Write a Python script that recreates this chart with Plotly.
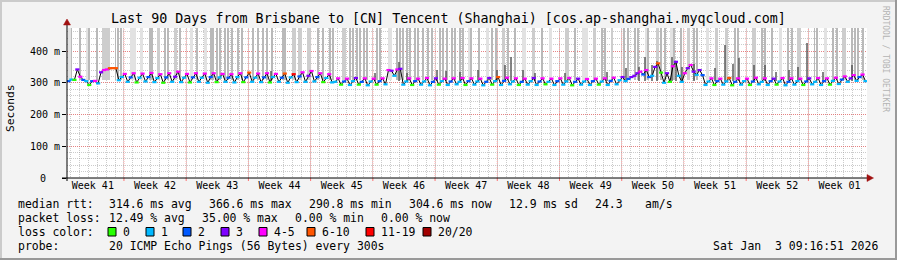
import pandas as pd
import plotly.graph_objects as go

# ---------------- data ----------------
TITLE = "Last 90 Days from Brisbane to [CN] Tencent (Shanghai) [cos.ap-shanghai.myqcloud.com]"
range_start = pd.Timestamp("2025-10-06 14:14")
range_end = pd.Timestamp("2026-01-04 14:14")
sample_hours = 8

week_starts = ["2025-10-06", "2025-10-13", "2025-10-20", "2025-10-27", "2025-11-03",
               "2025-11-10", "2025-11-17", "2025-11-24", "2025-12-01", "2025-12-08",
               "2025-12-15", "2025-12-22", "2025-12-29"]
week_labels = ["Week 41", "Week 42", "Week 43", "Week 44", "Week 45", "Week 46", "Week 47",
               "Week 48", "Week 49", "Week 50", "Week 51", "Week 52", "Week 01"]

# median rtt (ms), three samples per day
rtt_ms = [
    305, 310, 309,  342, 319, 309,  305, 293, 305,  306, 298, 333,  340, 342, 346,
    346, 346, 308,  318, 328, 303,  317, 330, 301,  316, 329, 304,  318, 331, 302,
    315, 327, 300,  317, 330, 303,  319, 335, 302,  316, 328, 301,  317, 330, 303,
    316, 329, 300,  318, 330, 302,  317, 328, 303,  316, 327, 301,  318, 330, 302,
    317, 332, 303,  316, 329, 302,  317, 330, 301,  318, 328, 303,  316, 329, 300,
    317, 327, 302,  320, 333, 303,  322, 337, 304,  318, 330, 302,  315, 327, 301,
    303, 314, 294,  304, 313, 293,  305, 315, 294,  303, 314, 292,  304, 313, 294,
    305, 314, 295,  340, 338, 322,  342, 344, 294,  304, 314, 293,  305, 313, 294,
    304, 315, 292,  303, 314, 294,  305, 313, 293,  304, 314, 295,  303, 315, 293,
    305, 314, 294,  304, 313, 292,  303, 315, 294,  305, 318, 293,  306, 316, 295,
    304, 314, 293,  303, 313, 294,  305, 315, 293,  304, 314, 295,  303, 313, 293,
    305, 314, 294,  304, 315, 292,  303, 313, 294,  304, 312, 293,  305, 313, 294,
    304, 314, 293,  306, 316, 295,  308, 318, 305,  312, 318, 322,  330, 335, 326,
    340, 318, 322,  350, 361, 332,  300, 330, 303,  352, 366, 322,  303, 330, 346,
    356, 335, 325,  340, 324, 293,  304, 314, 293,  305, 313, 294,  304, 315, 292,
    303, 314, 294,  305, 313, 293,  304, 316, 295,  303, 314, 293,  305, 313, 294,
    304, 315, 292,  303, 314, 294,  305, 313, 293,  304, 314, 295,  303, 315, 293,
    305, 314, 294,  306, 316, 296,  310, 320, 303,  314, 324, 306,  318, 326, 305,
]

# lost pings (of 20) for each sample
loss_pings = [
    2, 1, 0,  3, 4, 2,  1, 0, 2,  4, 1, 3,  4, 4, 7,
    7, 7, 1,  1, 4, 1,  2, 4, 0,  1, 4, 1,  2, 4, 1,
    1, 4, 0,  2, 4, 1,  3, 4, 1,  1, 4, 0,  2, 4, 1,
    1, 4, 1,  2, 4, 0,  1, 4, 1,  2, 4, 1,  1, 4, 0,
    2, 7, 1,  1, 4, 1,  2, 4, 0,  1, 4, 1,  2, 7, 1,
    1, 12, 1,  2, 4, 1,  3, 4, 1,  2, 4, 0,  1, 4, 1,
    1, 4, 0,  2, 4, 1,  1, 3, 0,  2, 4, 1,  1, 4, 0,
    2, 4, 1,  4, 3, 1,  4, 3, 1,  1, 4, 0,  2, 4, 1,
    1, 4, 1,  2, 3, 0,  1, 4, 1,  2, 4, 1,  1, 4, 0,
    2, 4, 1,  1, 4, 1,  2, 3, 0,  1, 7, 1,  2, 4, 1,
    1, 4, 0,  2, 4, 1,  1, 3, 1,  2, 4, 0,  1, 4, 1,
    2, 4, 1,  1, 4, 0,  2, 3, 1,  1, 4, 1,  2, 4, 0,
    1, 4, 1,  2, 4, 1,  1, 3, 1,  2, 3, 3,  3, 4, 2,
    4, 2, 1,  3, 7, 0,  1, 3, 0,  4, 3, 1,  1, 4, 3,
    4, 3, 1,  3, 2, 1,  1, 4, 0,  2, 4, 1,  1, 7, 0,
    2, 4, 1,  1, 4, 0,  2, 4, 1,  1, 4, 1,  2, 3, 0,
    1, 4, 1,  2, 4, 1,  1, 4, 0,  2, 3, 1,  1, 4, 1,
    2, 4, 0,  1, 4, 1,  2, 4, 1,  3, 4, 1,  2, 4, 1,
]

loss_labels = ["0", "1", "2", "3", "4-5", "6-10", "11-19", "20/20"]
loss_upper = [0, 1, 2, 3, 5, 10, 19, 20]
loss_colors = ["#26ff00", "#00b8ff", "#0059ff", "#7e00ff", "#ff00ff", "#ff5500", "#ff0000", "#a10000"]

# smoke: periods where some pings went far above the range (start day, length in days, density 1..3)
spike_day = [0.08, 0.45, 1.46, 2.14, 2.47, 3.37, 3.93, 5.40, 5.73, 6.07, 7.08, 8.32, 9.33, 9.55,
             10.12, 11.01, 11.35, 12.14, 12.70, 13.94, 14.61, 15.51, 16.19, 16.41, 16.86, 17.20,
             17.76, 18.10, 18.55, 19.22, 19.67, 20.91, 21.47, 22.03, 22.48, 23.04, 24.28, 24.51,
             25.29, 25.97, 26.98, 28.21, 28.78, 29.56, 29.90, 30.91, 31.81, 32.15, 32.60, 32.94,
             33.39, 33.72, 34.85, 35.18, 36.09, 37.09, 37.43, 37.77, 38.22, 38.56, 39.12, 39.46,
             40.02, 40.58, 41.03, 41.93, 42.27, 42.72, 43.28, 43.62, 44.18, 44.51, 45.08, 45.41,
             46.31, 47.21, 47.77, 48.22, 48.90, 49.57, 50.36, 51.15, 52.27, 53.40, 54.29, 55.98,
             57.10, 57.89, 59.13, 60.14, 60.48, 61.26, 62.61, 63.06, 63.85, 64.18, 64.97, 65.31,
             66.21, 66.77, 67.21, 67.88, 68.21, 69.06, 69.85, 70.52, 70.86, 71.94, 72.95, 73.97,
             75.09, 75.43, 77.11, 78.13, 78.46, 79.25, 80.15, 81.05, 81.50, 82.17, 84.04, 84.37,
             85.21, 86.10, 86.55, 87.23, 88.24, 88.58, 88.92, 89.48]
spike_len = [0.45, 0.11, 0.11, 0.22, 0.11, 0.11, 0.90, 0.11, 0.11, 0.11, 0.67, 0.22, 0.11, 0.11,
             0.34, 0.11, 0.11, 0.22, 0.11, 0.22, 0.11, 0.22, 0.11, 0.11, 0.11, 0.11,
             0.11, 0.11, 0.11, 0.11, 0.11, 0.11, 0.11, 0.11, 0.11, 0.11, 0.11, 0.11,
             0.45, 0.45, 0.45, 0.11, 0.11, 0.11, 0.11, 0.45, 0.11, 0.11, 0.11, 0.11,
             0.11, 0.11, 0.11, 0.11, 0.45, 0.11, 0.11, 0.11, 0.11, 0.11, 0.11, 0.11,
             0.11, 0.11, 0.11, 0.11, 0.11, 0.11, 0.11, 0.11, 0.11, 0.11, 0.45, 0.11,
             0.11, 0.22, 0.11, 0.11, 0.34, 0.11, 0.11, 0.45, 0.34, 0.11, 0.22, 0.45,
             0.11, 0.67, 0.34, 0.11, 0.11, 0.22, 0.11, 0.11, 0.11, 0.11, 0.56, 0.11,
             0.34, 0.11, 0.11, 0.56, 0.11, 0.11, 0.22, 0.11, 0.11, 0.34, 0.34, 0.34,
             0.11, 0.11, 0.45, 0.11, 0.11, 0.11, 0.34, 0.11, 0.11, 0.45, 0.11, 0.11,
             0.34, 0.11, 0.11, 0.45, 0.11, 0.11, 0.11, 0.11]
spike_density = [1, 3, 3, 1, 3, 3, 2, 3, 3, 3, 1, 1, 3, 3,
                 2, 3, 3, 2, 3, 1, 3, 1, 3, 3, 3, 3,
                 3, 3, 3, 3, 3, 3, 3, 3, 3, 3, 3, 3,
                 2, 2, 2, 3, 3, 3, 3, 2, 3, 3, 3, 3,
                 3, 3, 3, 3, 1, 3, 3, 3, 3, 3, 3, 3,
                 3, 3, 3, 3, 3, 3, 3, 3, 3, 3, 1, 3,
                 3, 1, 3, 3, 2, 3, 3, 1, 2, 3, 1, 2,
                 3, 1, 2, 3, 3, 2, 3, 3, 3, 3, 1, 3,
                 2, 3, 3, 1, 3, 3, 2, 3, 3, 1, 2, 2,
                 3, 3, 2, 3, 3, 3, 1, 3, 3, 2, 3, 3,
                 1, 3, 3, 2, 3, 3, 3, 3]

# darker smoke close to the median (day, top of smoke in ms)
smoke_day = [22.9, 34.6, 37.3, 38.3, 41.6, 42.6, 44.2, 46.2, 48.4, 49.3, 49.9, 51.3, 52.7,
             56.0, 60.8, 62.9, 64.3, 65.0, 65.8, 66.4, 68.1, 68.5, 69.2, 70.5, 72.9, 74.0,
             74.9, 75.6, 77.3, 78.5, 79.8, 81.2, 82.2, 83.3, 85.0, 88.3]
smoke_top = [337, 330, 366, 330, 340, 338, 335, 340, 340, 356, 382, 340, 330,
             330, 335, 346, 350, 382, 356, 370, 382, 366, 350, 360, 345, 419,
             360, 378, 356, 356, 335, 340, 350, 425, 335, 356]

y_tickvals = [0, 100, 200, 300, 400]
y_ticktext = ["", "100 m", "200 m", "300 m", "400 m"]
y_zero_label = "0"
y_top = 472.5

stats_rtt = [("median rtt:", 16), ("314.6 ms avg", 107), ("366.6 ms max", 207), ("290.8 ms min", 307),
             ("304.6 ms now", 407), ("12.9 ms sd", 507), ("24.3", 593), ("am/s", 643)]
stats_loss = [("packet loss:", 16), ("12.49 % avg", 107), ("35.00 % max", 200),
              ("0.00 % min", 293), ("0.00 % now", 379)]
probe_text = "20 ICMP Echo Pings (56 Bytes) every 300s"
stamp_text = "Sat Jan\u00a0\u00a03 09:16:51 2026"

# ---------------- layout helpers ----------------
W, H = 897, 260
PL, PT, PW, PH = 67, 28, 800, 150
FONT = "DejaVu Sans Mono"
LEG_SIZE = 11.45


def px(x):
    return (x - PL) / PW


def py(y):
    return (PT + PH - y) / PH


times = [range_start + pd.Timedelta(hours=sample_hours * (k + 0.5)) for k in range(len(rtt_ms))]
week_mid = [pd.Timestamp(w) + pd.Timedelta(hours=84) for w in week_starts]


def loss_bucket(n):
    for i, u in enumerate(loss_upper):
        if n <= u:
            return i
    return len(loss_upper) - 1


pt_colors = [loss_colors[loss_bucket(n)] for n in loss_pings]

fig = go.Figure()

shade_colors = {1: "#e2e2e2", 2: "#cdcdcd", 3: "#b9b9b9"}
for dens in (1, 2, 3):
    xs, ws = [], []
    for d, ln, s in zip(spike_day, spike_len, spike_density):
        if s != dens:
            continue
        xs.append(range_start + pd.Timedelta(days=d + ln / 2))
        ws.append(ln * 86400000)
    fig.add_trace(go.Bar(x=xs, y=[700] * len(xs), base=[310] * len(xs), width=ws,
                         marker=dict(color=shade_colors[dens], line=dict(width=0)),
                         showlegend=False, hoverinfo="skip"))

sx = [range_start + pd.Timedelta(days=d) for d in smoke_day]
fig.add_trace(go.Bar(x=sx, y=[t - 305 for t in smoke_top], base=[305] * len(sx),
                     width=[0.22 * 86400000] * len(sx),
                     marker=dict(color="rgba(80,80,80,0.7)", line=dict(width=0)),
                     showlegend=False, hoverinfo="skip"))

fig.add_trace(go.Scatter(x=times, y=rtt_ms, mode="lines",
                         line=dict(color="#000000", width=1), showlegend=False, hoverinfo="skip"))
fig.add_trace(go.Scatter(x=times, y=rtt_ms, mode="markers",
                         marker=dict(symbol="line-ew", size=3,
                                     line=dict(color=pt_colors, width=2.2)),
                         showlegend=False, hoverinfo="skip"))

major_grid = "rgba(255,60,60,0.5)"
minor_grid = "rgba(160,160,160,0.55)"

fig.update_layout(
    width=W, height=H, autosize=False,
    margin=dict(l=PL, r=W - PL - PW, t=PT, b=H - PT - PH, pad=0),
    paper_bgcolor="#f3f3f3", plot_bgcolor="#ffffff",
    barmode="overlay", bargap=0,
    font=dict(family=FONT, size=10, color="#000000"),
    showlegend=False,
    xaxis=dict(type="date", range=[range_start, range_end],
               tickmode="array", tickvals=week_mid, ticktext=week_labels,
               ticks="", showgrid=False,
               minor=dict(dtick=86400000, tick0="2025-10-06", showgrid=True,
                          gridcolor=minor_grid, griddash="1px,1px", ticks=""),
               showline=False, zeroline=False, tickfont=dict(family=FONT, size=10)),
    yaxis=dict(range=[0, y_top], tickmode="array", tickvals=y_tickvals, ticktext=y_ticktext,
               ticks="outside", ticklen=4, tickcolor="#000000",
               showgrid=True, gridcolor=major_grid, griddash="1px,1px",
               minor=dict(dtick=20, showgrid=True, gridcolor=minor_grid, griddash="1px,1px", ticks=""),
               showline=False, zeroline=False, tickfont=dict(family=FONT, size=10)),
)

shapes = []
# weekly major grid lines + small ticks
for w in week_starts:
    wt = pd.Timestamp(w)
    if wt <= range_start:
        continue
    shapes.append(dict(type="line", xref="x", yref="paper", x0=wt, x1=wt, y0=0, y1=1,
                       line=dict(color=major_grid, width=1, dash="1px,1px"), layer="below"))
    shapes.append(dict(type="line", xref="x", yref="paper", x0=wt, x1=wt, y0=py(181), y1=0,
                       line=dict(color="rgba(255,60,60,0.7)", width=1)))
# axis lines
shapes.append(dict(type="line", xref="paper", yref="paper", x0=px(62), x1=px(868), y0=0, y1=0,
                   line=dict(color="#000000", width=1)))
shapes.append(dict(type="line", xref="paper", yref="paper", x0=0, x1=0, y0=py(181), y1=py(24),
                   line=dict(color="#000000", width=1)))
# arrows
arrow_col = "#a01010"
shapes.append(dict(type="path", xref="paper", yref="paper",
                   path=f"M {px(63.5)},{py(25)} L {px(70.5)},{py(25)} L {px(67)},{py(19)} Z",
                   fillcolor=arrow_col, line=dict(color=arrow_col, width=0.5)))
shapes.append(dict(type="path", xref="paper", yref="paper",
                   path=f"M {px(867)},{py(174.5)} L {px(867)},{py(181.5)} L {px(873.5)},{py(178)} Z",
                   fillcolor=arrow_col, line=dict(color=arrow_col, width=0.5)))
# frame
shapes.append(dict(type="rect", xref="paper", yref="paper", x0=px(0), x1=px(W), y0=py(2), y1=py(0),
                   fillcolor="#cbcbcb", line=dict(width=0), layer="below"))
shapes.append(dict(type="rect", xref="paper", yref="paper", x0=px(0), x1=px(2), y0=py(H), y1=py(0),
                   fillcolor="#cbcbcb", line=dict(width=0), layer="below"))
shapes.append(dict(type="rect", xref="paper", yref="paper", x0=px(0), x1=px(W), y0=py(H), y1=py(H - 2),
                   fillcolor="#999999", line=dict(width=0), layer="below"))
shapes.append(dict(type="rect", xref="paper", yref="paper", x0=px(W - 2), x1=px(W), y0=py(H), y1=py(0),
                   fillcolor="#999999", line=dict(width=0), layer="below"))

annotations = []


def txt(s, x, y, size=LEG_SIZE, anchor="left", color="#000000", angle=0):
    annotations.append(dict(text=s, x=px(x), y=py(y), xref="paper", yref="paper",
                            xanchor=anchor, yanchor="middle", showarrow=False,
                            textangle=angle, font=dict(family=FONT, size=size, color=color)))


txt(TITLE, 448, 18.5, size=13.35, anchor="center")
txt("Seconds", 10, 108, size=11.3, anchor="center", angle=-90)
txt("RRDTOOL / TOBI OETIKER", 886, 59, size=8, anchor="center", color="#b4b4b4", angle=90)
# zero label of the value axis (rrdtool aligns it on the digits of "100 m")
annotations.append(dict(text=y_zero_label, x=0, y=0, xref="paper", yref="y",
                        xanchor="right", yanchor="middle", xshift=-19.5, showarrow=False,
                        font=dict(family=FONT, size=10, color="#000000")))

for s, x in stats_rtt:
    txt(s, x, 204)
for s, x in stats_loss:
    txt(s, x, 218)
txt("loss color:", 16, 232)
box_x = [108, 146, 183, 221, 259, 307, 366, 423]
for i, lab in enumerate(loss_labels):
    bx = box_x[i]
    shapes.append(dict(type="rect", xref="paper", yref="paper", x0=px(bx), x1=px(bx + 8),
                       y0=py(236), y1=py(227.5), fillcolor=loss_colors[i],
                       line=dict(color="#000000", width=1)))
    txt(lab, bx + 13, 232)
txt("probe:", 16, 246.5)
txt(probe_text, 107, 246.5)
txt(stamp_text, 880, 246.5, anchor="right")

fig.update_layout(shapes=shapes, annotations=annotations)
fig.write_html("out.html")
